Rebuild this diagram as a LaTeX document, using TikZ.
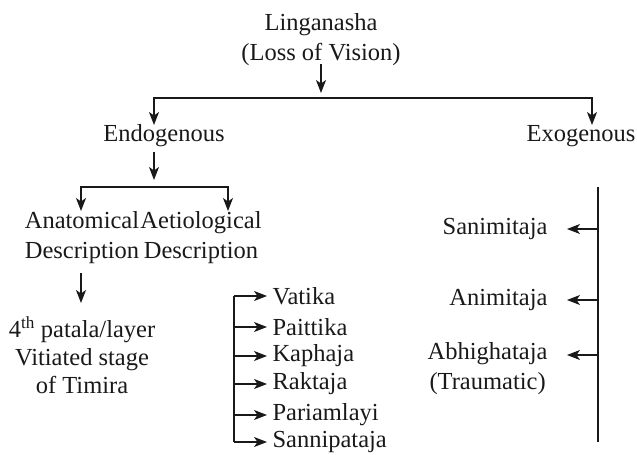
\documentclass[tikz,border=0pt]{standalone}
\usepackage{fontspec}
\newfontfamily\chartfont{Liberation Serif}
\usetikzlibrary{arrows.meta}

\tikzset{
  txt/.style={inner sep=2pt, align=center},
}

\begin{document}
\begin{tikzpicture}[x=1pt,y=-1pt,line width=1.1pt,color=black!90,
  >={Stealth[length=13pt,width=10pt,inset=3.5pt]},
  font=\chartfont\fontsize{24.5}{30}\selectfont]
\useasboundingbox (0,0) rectangle (637,455);

\node[txt] (ling) at (321,40) {Linganasha\\(Loss of Vision)};
\node[txt] (endo) at (164,136) {Endogenous};
\node[txt] (exo) at (581,136) {Exogenous};
\node[txt] (anat) at (82,238) {Anatomical\\Description};
\node[txt] (aeti) at (201,238) {Aetiological\\Description};
\node[txt,font=\chartfont\fontsize{24.5}{28}\selectfont] (patala) at (82,355)
  {4\textsuperscript{th} patala/layer\\Vitiated stage\\of Timira};

% aetiological types
\node[txt,anchor=west] (vat) at (270,296) {Vatika};
\node[txt,anchor=west] (pai) at (270,327) {Paittika};
\node[txt,anchor=west] (kap) at (270,356) {Kaphaja};
\node[txt,anchor=west] (rak) at (270,384) {Raktaja};
\node[txt,anchor=west] (par) at (270,415) {Pariamlayi};
\node[txt,anchor=west] (san) at (270,442) {Sannipataja};

% exogenous types
\node[txt,anchor=east] (sani) at (550,229) {Sanimitaja};
\node[txt,anchor=east] (ani) at (550,300) {Animitaja};
\node[txt,anchor=east] (abh) at (550,369) {Abhighataja\\(Traumatic)};

\coordinate (ltop) at (321,64);
\coordinate (ltip) at (321,93);
\coordinate (hl) at (154,98);
\coordinate (hr) at (592,98);
\coordinate (etip) at (154,125);
\coordinate (xtip) at (592,125);
\coordinate (dtop) at (154,152);
\coordinate (dtip) at (154,180);
\coordinate (sl) at (81,187);
\coordinate (sr) at (228,187);
\coordinate (atip) at (81,211);
\coordinate (btip) at (228,211);
\coordinate (ptop) at (81,273);
\coordinate (ptip) at (81,303);
\coordinate (bt) at (234,296);
\coordinate (bb) at (234,442);
\coordinate (rt) at (598,187);
\coordinate (rb) at (598,442);
\coordinate (abhy) at (598,355);

\draw[->] (ltop) -- (ltip);
\draw[<->] (etip) -- (hl) -- (hr) -- (xtip);
\draw[->] (dtop) -- (dtip);
\draw[<->] (atip) -- (sl) -- (sr) -- (btip);
\draw[->] (ptop) -- (ptip);

\draw (bt) -- (bb);
\foreach \n in {vat,pai,kap,rak,par,san}
  \draw[->,shorten >=3pt] (bt |- \n) -- (\n.west);

\draw (rt) -- (rb);
\foreach \n in {sani,ani}
  \draw[->,shorten >=17pt] (rt |- \n) -- (\n.east);
\draw[->,shorten >=17pt] (abhy) -- (abhy -| abh.east);
\end{tikzpicture}
\end{document}
